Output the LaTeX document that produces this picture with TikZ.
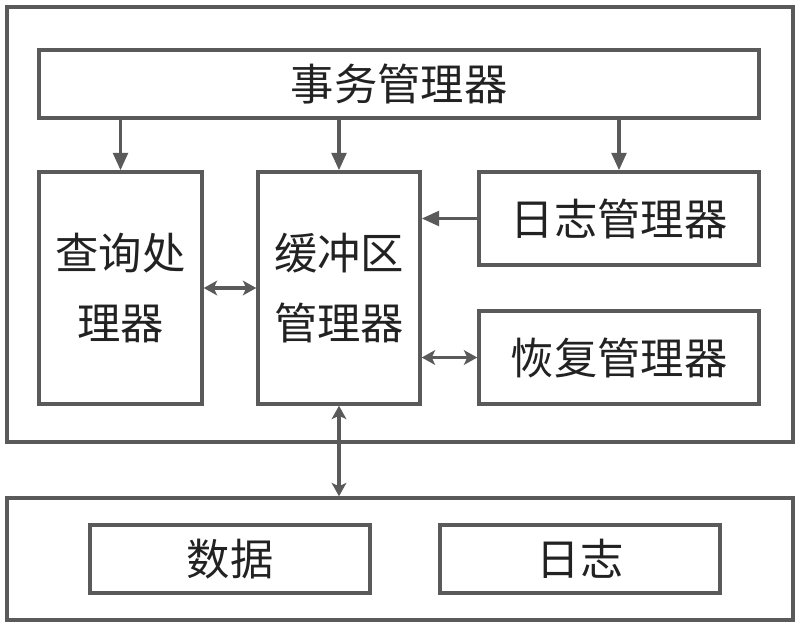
\documentclass[tikz,border=0pt]{standalone}
\usepackage{fontspec}
\setmainfont{Noto Sans CJK SC}
\usetikzlibrary{arrows.meta}
\definecolor{linha}{HTML}{5A5A5A}
\definecolor{texto}{HTML}{222222}

\begin{document}
\begin{tikzpicture}[x=0.75pt, y=-0.75pt,
    caixa/.style={draw=linha, line width=2.6pt, rectangle, inner sep=0pt,
      text=texto, font=\fontsize{32.5}{53}\selectfont, align=center},
    seta/.style={draw=linha, line width=2.4pt, -{Triangle[length=13pt,width=11pt]}},
    dupla/.style={draw=linha, line width=2.4pt,
      {Stealth[length=10pt,width=11pt,inset=2.5pt]}-{Stealth[length=10pt,width=11pt,inset=2.5pt]}}]
  \useasboundingbox (0,0) rectangle (802,626);
  % caixas externas
  \node[caixa, minimum width=786*0.75pt, minimum height=435*0.75pt] (sis) at (400,224.5) {};
  \node[caixa, minimum width=786*0.75pt, minimum height=122*0.75pt] (disco) at (400,559) {};
  % gerenciadores
  \node[caixa, minimum width=720*0.75pt, minimum height=68*0.75pt] (tm) at (399,84) {事务管理器};
  \node[caixa, minimum width=163*0.75pt, minimum height=232*0.75pt] (qp) at (120.5,288) {查询处\\理器};
  \node[caixa, minimum width=162*0.75pt, minimum height=232*0.75pt] (bm) at (339,288) {缓冲区\\管理器};
  \node[caixa, minimum width=280*0.75pt, minimum height=93*0.75pt] (lm) at (619,218.5) {日志管理器};
  \node[caixa, minimum width=280*0.75pt, minimum height=93*0.75pt] (rm) at (619,357.5) {恢复管理器};
  % armazenamento
  \node[caixa, minimum width=280*0.75pt, minimum height=68*0.75pt] (dados) at (230,559) {数据};
  \node[caixa, minimum width=280*0.75pt, minimum height=68*0.75pt] (log) at (580,559) {日志};
  % setas
  \draw[seta] (tm.south -| qp.north) -- (qp.north);
  \draw[seta] (tm.south -| bm.north) -- (bm.north);
  \draw[seta] (tm.south -| lm.north) -- (lm.north);
  \draw[seta] (lm.west) -- (bm.east |- lm.west);
  \draw[dupla] (qp.east) -- (bm.west);
  \draw[dupla] (bm.east |- rm.west) -- (rm.west);
  \draw[dupla] (bm.south) -- (disco.north -| bm.south);
\end{tikzpicture}
\end{document}
